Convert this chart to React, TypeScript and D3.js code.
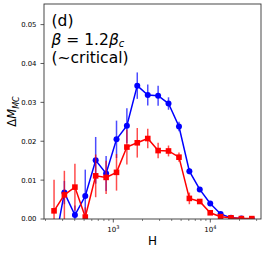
import * as d3 from 'd3'

const W = 266
const H_PX = 253
const MARGIN = { left: 44, right: 5, top: 4, bottom: 34 }

// field values H (log axis)
const fields = [245, 313, 402, 514, 658, 843, 1079, 1380, 1766, 2265, 2897, 3707, 4753, 6081, 7780, 9977, 12764, 16331, 20893, 26792]

// blue circles
const blueVals = [-0.0075, 0.0068, 0.001, 0.0059, 0.0151, 0.0117, 0.0205, 0.024, 0.0343, 0.0319, 0.0317, 0.0297, 0.0238, 0.0123, 0.0076, 0.004, 0.0013, 0.0003, 0.0001, 0.0]
const blueErr = [0.006, 0.003, 0.0025, 0.0068, 0.006, 0.0045, 0.0048, 0.0045, 0.0034, 0.0027, 0.0026, 0.0016, 0.0012, 0.0008, 0.0006, 0.0004, 0.0003, 0.0002, 0.0001, 0.0001]

// red squares
const redVals = [0.0021, 0.0062, 0.0082, 0.0005, 0.0111, 0.0107, 0.012, 0.0185, 0.0196, 0.0207, 0.0176, 0.0175, 0.0159, 0.0053, 0.0045, 0.0016, 0.0006, 0.0003, 0.0001, 0.0001]
const redErr = [0.008, 0.0062, 0.006, 0.0025, 0.0055, 0.0043, 0.0047, 0.0045, 0.0038, 0.0025, 0.002, 0.0014, 0.0012, 0.0015, 0.0006, 0.0005, 0.0003, 0.0002, 0.0001, 0.0001]

const yTicks = [0, 0.01, 0.02, 0.03, 0.04, 0.05]
const xMajor = [1000, 10000]
const xMinor = [200, 300, 400, 500, 600, 700, 800, 900, 2000, 3000, 4000, 5000, 6000, 7000, 8000, 9000, 20000, 30000]
const X_DOMAIN = [193, 33300]
const Y_DOMAIN = [0, 0.0553]

const FONT = 'DejaVu Sans, sans-serif'
const AXIS = '#333'

export default function App() {
  const x = d3.scaleLog(X_DOMAIN, [MARGIN.left, W - MARGIN.right])
  const y = d3.scaleLinear(Y_DOMAIN, [H_PX - MARGIN.bottom, MARGIN.top])
  const line = d3.line<number>((_, i) => x(fields[i]), (d) => y(d))
  const bottom = H_PX - MARGIN.bottom

  const series = [
    { vals: blueVals, err: blueErr, color: '#0000ff', marker: 'circle' },
    { vals: redVals, err: redErr, color: '#ff0000', marker: 'square' },
  ]

  return (
    <svg width={W} height={H_PX} style={{ position: 'absolute', left: 0, top: 0 }} fontFamily={FONT}>
      <rect width={W} height={H_PX} fill="#fff" />
      <defs>
        <clipPath id="plot">
          <rect x={MARGIN.left} y={MARGIN.top} width={W - MARGIN.left - MARGIN.right} height={bottom - MARGIN.top} />
        </clipPath>
      </defs>

      <g clipPath="url(#plot)">
        {series.map((s) => (
          <g key={s.color}>
            {s.vals.map((v, i) => (
              <line key={i} x1={x(fields[i])} x2={x(fields[i])} y1={y(v - s.err[i])} y2={y(v + s.err[i])}
                stroke={s.color} strokeOpacity={0.7} strokeWidth={1.5} />
            ))}
            <path d={line(s.vals) ?? ''} fill="none" stroke={s.color} strokeWidth={1.5} />
            {s.vals.map((v, i) =>
              s.marker === 'circle' ? (
                <circle key={i} cx={x(fields[i])} cy={y(v)} r={3} fill={s.color} />
              ) : (
                <rect key={i} x={x(fields[i]) - 2.8} y={y(v) - 2.8} width={5.6} height={5.6} fill={s.color} />
              ),
            )}
          </g>
        ))}
      </g>

      {/* frame */}
      <rect x={MARGIN.left} y={MARGIN.top} width={W - MARGIN.left - MARGIN.right} height={bottom - MARGIN.top}
        fill="none" stroke={AXIS} strokeWidth={0.9} />

      {/* y axis */}
      {yTicks.map((t) => (
        <g key={t}>
          <line x1={MARGIN.left - 3.5} x2={MARGIN.left} y1={y(t)} y2={y(t)} stroke={AXIS} strokeWidth={0.8} />
          <text x={MARGIN.left - 7.5} y={y(t)} dy="0.36em" textAnchor="end" fontSize={6.9}>{t.toFixed(2)}</text>
        </g>
      ))}

      {/* x axis */}
      {xMinor.map((t) => (
        <line key={t} x1={x(t)} x2={x(t)} y1={bottom} y2={bottom + 2} stroke={AXIS} strokeWidth={0.6} />
      ))}
      {xMajor.map((t) => (
        <g key={t}>
          <line x1={x(t)} x2={x(t)} y1={bottom} y2={bottom + 3.5} stroke={AXIS} strokeWidth={0.8} />
          <text x={x(t)} y={bottom + 13} textAnchor="middle" fontSize={7}>
            10<tspan fontSize={5} dy={-3}>{Math.round(Math.log10(t))}</tspan>
          </text>
        </g>
      ))}

      <text x={(MARGIN.left + W - MARGIN.right) / 2} y={245} textAnchor="middle" fontSize={12}>H</text>
      <text transform={`translate(16,${(MARGIN.top + bottom) / 2}) rotate(-90)`} textAnchor="middle" fontSize={11.5}>
        Δ<tspan fontStyle="italic">M</tspan>
        <tspan fontStyle="italic" fontSize={8} dy={2.5}>MC</tspan>
      </text>

      {/* annotation */}
      <g fontSize={15.5}>
        <text x={51.5} y={26}>(d)</text>
        <text x={51.5} y={45}>
          <tspan fontStyle="italic">β</tspan> = 1.2<tspan fontStyle="italic">β</tspan>
          <tspan fontStyle="italic" fontSize={10} dy={2}>c</tspan>
        </text>
        <text x={51.5} y={62.5}>(~critical)</text>
      </g>
    </svg>
  )
}
